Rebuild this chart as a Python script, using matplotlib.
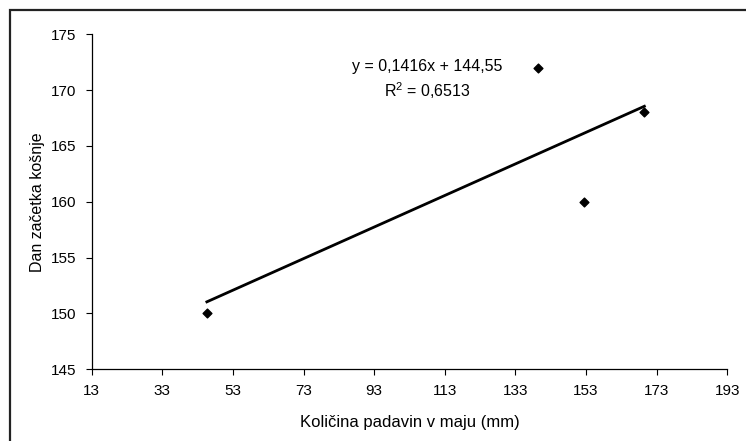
import matplotlib.pyplot as plt
import numpy as np
from matplotlib.patches import Rectangle

# rainfall in May (mm) vs day of first mowing
rainfall = [45.6, 139.3, 152.3, 169.5]
mowing_day = [150, 172, 160, 168]
x_ticks = [13, 33, 53, 73, 93, 113, 133, 153, 173, 193]
y_ticks = [145, 150, 155, 160, 165, 170, 175]
eq_text = "y = 0,1416x + 144,55"
r2_text = "$\\mathregular{R^2}$ = 0,6513"

plt.rcParams['font.family'] = ['Liberation Sans', 'DejaVu Sans']

fig = plt.figure(figsize=(7.46, 4.41), dpi=100)
ax = fig.add_axes([0.123, 0.163, 0.852, 0.759])

ax.scatter(rainfall, mowing_day, marker='D', s=20, color='black', zorder=3)

# linear trend line over the data range
slope, intercept = np.polyfit(rainfall, mowing_day, 1)
fit_x = np.array([min(rainfall), max(rainfall)])
ax.plot(fit_x, slope * fit_x + intercept, color='black', lw=2)

ax.text(108, 172.1, eq_text, ha='center', va='center', fontsize=11.5)
ax.text(108, 170.0, r2_text, ha='center', va='center', fontsize=11.5)

ax.set_xlim(13, 193)
ax.set_ylim(145, 175)
ax.set_xticks(x_ticks)
ax.set_yticks(y_ticks)
ax.tick_params(labelsize=11, length=4, width=0.8, direction='out', pad=7)
ax.spines['top'].set_visible(False)
ax.spines['right'].set_visible(False)
for side in ['left', 'bottom']:
    ax.spines[side].set_linewidth(0.9)

ax.set_xlabel("Količina padavin v maju (mm)", fontsize=12, labelpad=12)
ax.set_ylabel("Dan začetka košnje", fontsize=11.5, labelpad=4)

# frame round the whole chart area
fig.patches.append(Rectangle((10 / 746, -0.1), 1.0, 1.1 - 10 / 441,
                             transform=fig.transFigure, fill=False,
                             edgecolor='#222222', lw=1.6))

fig.savefig("out.png", dpi=100)
